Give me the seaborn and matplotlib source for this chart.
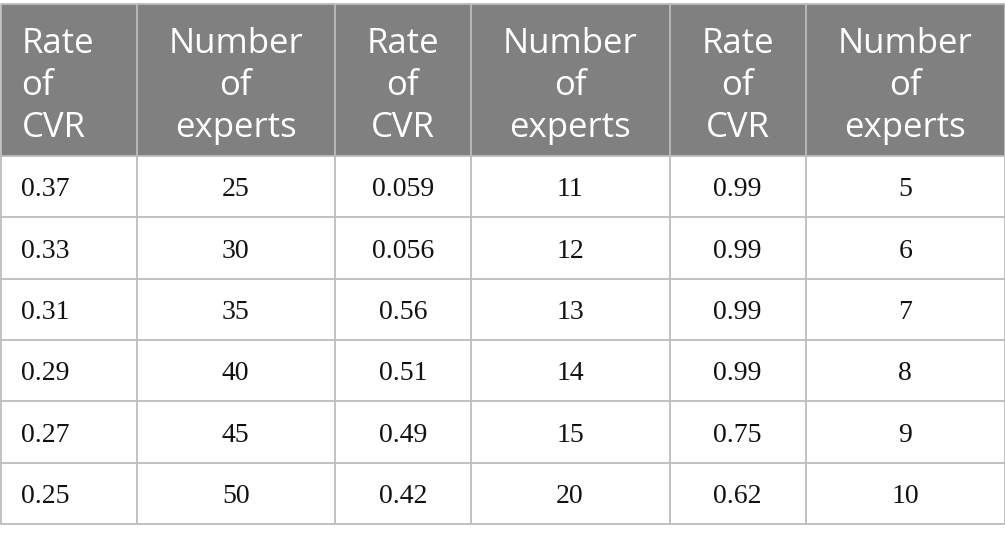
import matplotlib
matplotlib.use("Agg")
import matplotlib.pyplot as plt
import seaborn as sns
import pandas as pd

# ---- data ----
header_labels = ["Rate\nof\nCVR", "Number\nof\nexperts",
                 "Rate\nof\nCVR", "Number\nof\nexperts",
                 "Rate\nof\nCVR", "Number\nof\nexperts"]
rate_cvr_1 = ["0.37", "0.33", "0.31", "0.29", "0.27", "0.25"]
experts_1 = ["25", "30", "35", "40", "45", "50"]
rate_cvr_2 = ["0.059", "0.056", "0.56", "0.51", "0.49", "0.42"]
experts_2 = ["11", "12", "13", "14", "15", "20"]
rate_cvr_3 = ["0.99", "0.99", "0.99", "0.99", "0.75", "0.62"]
experts_3 = ["5", "6", "7", "8", "9", "10"]

columns = [rate_cvr_1, experts_1, rate_cvr_2, experts_2, rate_cvr_3, experts_3]
df = pd.DataFrame({f"c{i}": col for i, col in enumerate(columns)})

# ---- layout ----
sns.set_theme(style="white")
plt.rcParams["font.family"] = ["Open Sans", "DejaVu Sans"]

W, H = 1005, 543
fig = plt.figure(figsize=(W / 100, H / 100), dpi=100)
ax = fig.add_axes([0, 0, 1, 1])
ax.set_xlim(0, W)
ax.set_ylim(H, 0)
ax.axis("off")

col_edges = [0.5, 136.5, 335, 470.5, 669.5, 806, 1004.5]
head_top, head_bot = 4, 156
row_h = (524 - head_bot) / 6
row_edges = [head_bot + i * row_h for i in range(7)]

header_bg = "#7f807f"
grid_c = "#bcbcbc"

# header background
ax.fill_between([col_edges[0], col_edges[-1]], head_top, head_bot,
                color=header_bg, lw=0)

# grid lines
for x in col_edges:
    ax.plot([x, x], [head_top, row_edges[-1]], color=grid_c, lw=1.3,
            solid_capstyle="butt")
ax.plot([col_edges[0], col_edges[-1]], [head_top, head_top], color=grid_c, lw=1.3)
for y in row_edges:
    ax.plot([col_edges[0], col_edges[-1]], [y, y], color=grid_c, lw=1.3)

# header text
line_base = [53, 95, 137]
for j, lab in enumerate(header_labels):
    lines = lab.split("\n")
    left = (j == 0)
    x = col_edges[j] + 21 if left else (col_edges[j] + col_edges[j + 1]) / 2
    for k, t in enumerate(lines):
        ax.text(x, line_base[k], t, color="white", fontsize=25,
                family=["Open Sans", "DejaVu Sans"],
                ha="left" if left else "center", va="baseline")

# body text
for j in range(df.shape[1]):
    left = (j == 0)
    x = col_edges[j] + 21 if left else (col_edges[j] + col_edges[j + 1]) / 2
    for i, val in enumerate(df.iloc[:, j]):
        yb = row_edges[i] + row_h / 2 + 9.5
        ax.text(x, yb, val, color="#111111", fontsize=20,
                family=["Liberation Serif", "DejaVu Serif"],
                ha="left" if left else "center", va="baseline")

fig.savefig("out.png", dpi=100, facecolor="white")
